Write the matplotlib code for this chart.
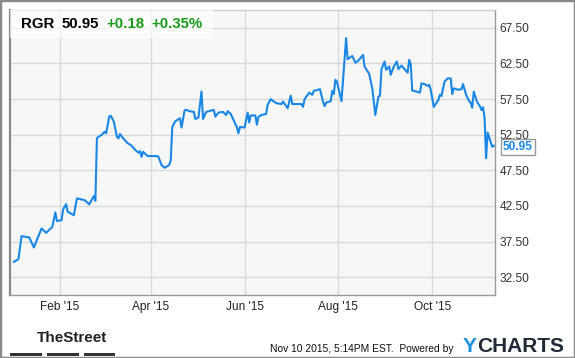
import pandas as pd
import matplotlib
matplotlib.use('Agg')
import matplotlib.pyplot as plt
from matplotlib.patches import Rectangle

plt.rcParams['font.family'] = ['Liberation Sans', 'DejaVu Sans']

# RGR daily close
dates = [
    '2015-01-02', '2015-01-05', '2015-01-07', '2015-01-12', '2015-01-15', '2015-01-20',
    '2015-01-23', '2015-01-27', '2015-01-29', '2015-01-30', '2015-02-02', '2015-02-03',
    '2015-02-05', '2015-02-06', '2015-02-10', '2015-02-12', '2015-02-17', '2015-02-20',
    '2015-02-23', '2015-02-24', '2015-02-25', '2015-02-26', '2015-02-28', '2015-03-02',
    '2015-03-03', '2015-03-05', '2015-03-06', '2015-03-08', '2015-03-10', '2015-03-11',
    '2015-03-12', '2015-03-14', '2015-03-17', '2015-03-19', '2015-03-22', '2015-03-24',
    '2015-03-25', '2015-03-26', '2015-03-27', '2015-03-30', '2015-04-05', '2015-04-06',
    '2015-04-08', '2015-04-10', '2015-04-13', '2015-04-14', '2015-04-15', '2015-04-17',
    '2015-04-19', '2015-04-20', '2015-04-21', '2015-04-23', '2015-04-24', '2015-04-26',
    '2015-04-29', '2015-04-30', '2015-05-02', '2015-05-04', '2015-05-05', '2015-05-07',
    '2015-05-12', '2015-05-13', '2015-05-15', '2015-05-18', '2015-05-20', '2015-05-21',
    '2015-05-23', '2015-05-26', '2015-05-27', '2015-05-28', '2015-05-29', '2015-06-01',
    '2015-06-03', '2015-06-04', '2015-06-05', '2015-06-08', '2015-06-09', '2015-06-10',
    '2015-06-12', '2015-06-15', '2015-06-16', '2015-06-18', '2015-06-20', '2015-06-22',
    '2015-06-25', '2015-06-26', '2015-06-29', '2015-07-01', '2015-07-02', '2015-07-08',
    '2015-07-09', '2015-07-10', '2015-07-13', '2015-07-15', '2015-07-16', '2015-07-20',
    '2015-07-22', '2015-07-23', '2015-07-24', '2015-07-27', '2015-07-28', '2015-07-29',
    '2015-07-30', '2015-07-31', '2015-08-03', '2015-08-06', '2015-08-07', '2015-08-10',
    '2015-08-12', '2015-08-14', '2015-08-17', '2015-08-18', '2015-08-21', '2015-08-23',
    '2015-08-25', '2015-08-27', '2015-08-28', '2015-08-29', '2015-08-31', '2015-09-01',
    '2015-09-03', '2015-09-04', '2015-09-06', '2015-09-08', '2015-09-09', '2015-09-11',
    '2015-09-13', '2015-09-15', '2015-09-16', '2015-09-17', '2015-09-18', '2015-09-21',
    '2015-09-23', '2015-09-24', '2015-09-26', '2015-09-28', '2015-09-29', '2015-09-30',
    '2015-10-02', '2015-10-05', '2015-10-06', '2015-10-07', '2015-10-09', '2015-10-11',
    '2015-10-13', '2015-10-14', '2015-10-15', '2015-10-18', '2015-10-20', '2015-10-21',
    '2015-10-23', '2015-10-25', '2015-10-26', '2015-10-27', '2015-10-28', '2015-10-30',
    '2015-11-01', '2015-11-02', '2015-11-03', '2015-11-04', '2015-11-05', '2015-11-06',
    '2015-11-09', '2015-11-10',
]
prices = [
    34.65, 35.03, 38.26, 38.08, 36.67, 39.34,
    38.73, 39.57, 41.60, 40.37, 40.50, 42.00,
    42.76, 41.68, 41.20, 43.56, 43.32, 42.72,
    43.88, 43.22, 52.00, 52.20, 52.46, 52.90,
    52.70, 55.03, 55.17, 54.33, 52.20, 51.99,
    52.60, 52.00, 51.30, 51.06, 50.35, 49.97,
    50.20, 49.40, 50.10, 49.50, 49.50, 49.40,
    48.24, 47.86, 48.24, 48.90, 53.60, 54.40,
    54.67, 54.80, 53.50, 55.90, 56.00, 55.80,
    55.70, 54.70, 54.90, 58.55, 54.70, 55.70,
    55.97, 55.03, 55.60, 55.70, 55.27, 55.80,
    55.40, 54.00, 53.54, 52.70, 53.60, 53.50,
    55.60, 54.20, 55.20, 55.20, 53.90, 55.00,
    55.27, 55.40, 56.70, 57.50, 57.15, 56.90,
    56.80, 57.15, 56.20, 57.98, 56.80, 56.80,
    56.40, 57.50, 58.40, 58.10, 58.65, 58.88,
    57.15, 56.50, 57.00, 57.20, 58.65, 58.20,
    60.20, 59.95, 57.20, 66.05, 63.10, 63.56,
    62.60, 62.90, 63.70, 62.06, 61.04, 59.00,
    55.27, 57.85, 57.95, 61.70, 62.77, 61.60,
    62.07, 60.90, 62.07, 62.77, 61.70, 62.20,
    61.70, 61.20, 63.00, 62.40, 58.69, 58.55,
    58.40, 59.70, 59.60, 59.35, 59.50, 58.80,
    56.40, 57.38, 58.10, 57.95, 59.95, 60.40,
    60.40, 58.20, 59.00, 58.80, 58.90, 59.60,
    58.10, 57.20, 57.00, 56.30, 58.55, 57.15,
    56.50, 55.97, 56.35, 54.90, 49.20, 52.80,
    50.80, 50.95,
]

tick_dates = ['2015-02-01', '2015-04-01', '2015-06-01', '2015-08-01', '2015-10-01']
tick_labels = ["Feb '15", "Apr '15", "Jun '15", "Aug '15", "Oct '15"]
y_ticks = [32.5, 37.5, 42.5, 47.5, 52.5, 57.5, 62.5, 67.5]

ticker = 'RGR'
last = 50.95
change = '+0.18'
change_pct = '+0.35%'

blue = '#1a87e6'
green = '#1a9a1a'

W, H = 575, 358
fig = plt.figure(figsize=(W / 100, H / 100), dpi=100)
fig.patch.set_facecolor('white')
ax = fig.add_axes([10 / W, 1 - 295 / H, 485 / W, 285 / H])
ax.set_facecolor('#f7f7f7')

x = pd.to_datetime(dates)
ax.plot(x, prices, color=blue, lw=1.5, zorder=3)

ax.set_xlim(pd.Timestamp('2014-12-30 12:00'), pd.Timestamp('2015-11-10 19:00'))
ax.set_ylim(30, 70)
ax.set_xticks(pd.to_datetime(tick_dates))
ax.set_xticklabels(tick_labels)
ax.set_yticks(y_ticks)
ax.set_yticklabels(['%.2f' % v for v in y_ticks])
ax.yaxis.tick_right()
ax.tick_params(axis='y', length=0, pad=3.5, labelsize=8.6, labelcolor='#333333')
ax.tick_params(axis='x', length=0, pad=4.5, labelsize=8.6, labelcolor='#222222')
ax.grid(True, color='#d9d9d9', lw=1)
ax.set_axisbelow(True)
for side in ['right', 'bottom']:
    ax.spines[side].set_color('#999999')
    ax.spines[side].set_linewidth(1)
ax.spines['left'].set_color('#888888')
ax.spines['left'].set_linewidth(1.6)
ax.spines['top'].set_color('#d0d0d0')
ax.spines['top'].set_linewidth(1)

# header overlay
fig.patches.append(Rectangle((10 / W, 1 - 38 / H), 203 / W, 28 / H, transform=fig.transFigure,
                             facecolor='white', alpha=0.65, edgecolor='none', zorder=5))
hy = 1 - 23.5 / H
fig.text(21 / W, hy, ticker, fontsize=10.8, weight='bold', color='black', va='center', zorder=6)
fig.text(62 / W, hy, '%.2f' % last, fontsize=10.8, weight='bold', color='black', va='center', zorder=6)
fig.text(106 / W, hy, change, fontsize=10.8, weight='bold', color=green, va='center', zorder=6)
fig.text(151 / W, hy, change_pct, fontsize=10.8, weight='bold', color=green, va='center', zorder=6)

# last price tag
ax.annotate('%.2f' % prices[-1], xy=(1, prices[-1]), xycoords=('axes fraction', 'data'),
            xytext=(8, -1), textcoords='offset pixels', va='center', ha='left',
            fontsize=8.6, weight='bold', color=blue, annotation_clip=False,
            bbox=dict(boxstyle='square,pad=0.15', fc='white', ec='#999999', lw=1))

# footer
fig.text(37 / W, 1 - 338 / H, 'TheStreet', fontsize=11, weight='bold', color='#222222',
         va='center', family=['Liberation Sans Narrow', 'Liberation Sans'])
for x0, x1 in [(10, 42), (47, 79), (84, 115)]:
    fig.patches.append(Rectangle((x0 / W, 1 - 356 / H), (x1 - x0) / W, 3.5 / H,
                                 transform=fig.transFigure, facecolor='#333333', edgecolor='none'))
fig.text(270 / W, 1 - 349 / H, 'Nov 10 2015, 5:14PM EST.  Powered by', fontsize=7.4,
         color='#111111', va='center')
fig.text(463 / W, 1 - 346 / H, 'Y', fontsize=15, weight='bold', color='#1e90e0', va='center')
fig.text(477 / W, 1 - 346 / H, 'CHARTS', fontsize=15, weight='bold', color='#1f2a36', va='center')

# outer frame
fig.patches.append(Rectangle((0, 0), 1, 1, transform=fig.transFigure, fill=False,
                             edgecolor='#8a8a8a', lw=2.5))

fig.savefig('out.png', dpi=100)
